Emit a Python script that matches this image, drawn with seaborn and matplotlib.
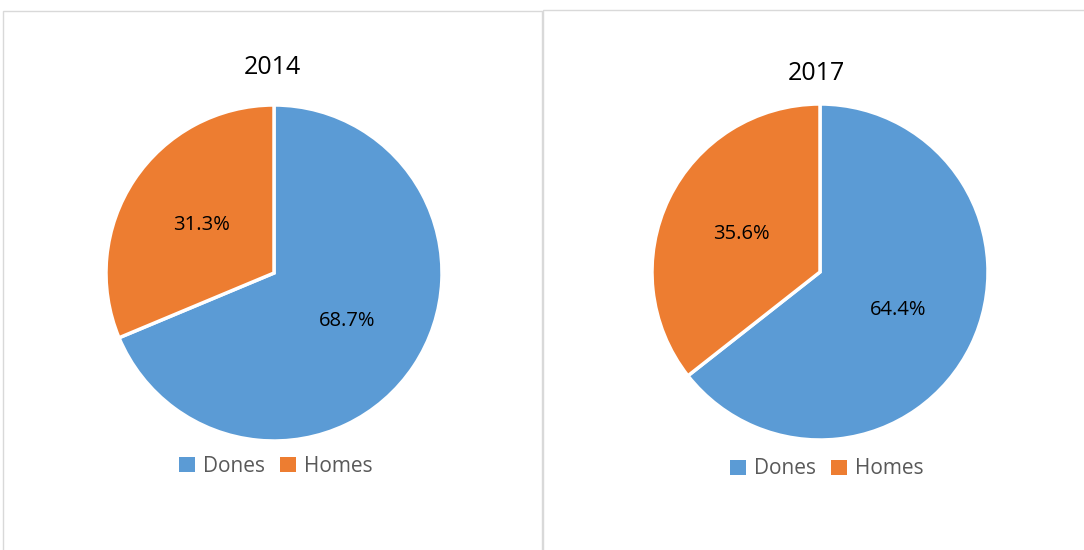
import matplotlib
matplotlib.use("Agg")
import matplotlib.pyplot as plt
import seaborn as sns
from matplotlib.patches import Rectangle, Patch

categories = ["Dones", "Homes"]
years = ["2014", "2017"]
values_2014 = [68.7, 31.3]
values_2017 = [64.4, 35.6]
colors = ["#5B9BD5", "#ED7D31"]

sns.set_theme(style="white")
plt.rcParams["font.family"] = ["Open Sans", "DejaVu Sans"]

W, H = 1084, 550
fig = plt.figure(figsize=(W / 100, H / 100), dpi=100)
fig.patch.set_facecolor("white")

# panel borders (pixel coords, top-left origin)
for (x0, y0, x1, y1) in [(3, 11, 542, 551), (543, 10, 1085, 551)]:
    fig.patches.append(Rectangle((x0 / W, 1 - y1 / H), (x1 - x0) / W, (y1 - y0) / H,
                                 transform=fig.transFigure, fill=False,
                                 edgecolor="#D9D9D9", lw=1.0))

R = 168
panels = [
    (years[0], values_2014, (274, 273), (272, 67), (276, 466)),
    (years[1], values_2017, (820, 272), (816, 74), (827, 469)),
]

for title, vals, (cx, cy), (tx, ty), (lx, ly) in panels:
    ax = fig.add_axes([(cx - R) / W, 1 - (cy + R) / H, 2 * R / W, 2 * R / H])
    ax.pie(vals, colors=colors, startangle=90, counterclock=False,
           autopct="%1.1f%%", pctdistance=0.52,
           wedgeprops=dict(edgecolor="white", linewidth=2.5),
           textprops=dict(fontsize=14.5, color="black"))
    ax.set_xlim(-1, 1)
    ax.set_ylim(-1, 1)
    ax.set_aspect("equal")
    ax.axis("off")
    fig.text(tx / W, 1 - ty / H, title, ha="center", va="center",
             fontsize=18, color="black")
    handles = [Patch(facecolor=c, edgecolor="none") for c in colors]
    leg = fig.legend(handles, categories, loc="center",
                     bbox_to_anchor=(lx / W, 1 - ly / H), ncol=2, frameon=False,
                     fontsize=15, handlelength=0.75, handleheight=0.75,
                     handletextpad=0.4, columnspacing=0.7)
    for t in leg.get_texts():
        t.set_color("#595959")

fig.savefig("out.png", dpi=100, facecolor="white")
